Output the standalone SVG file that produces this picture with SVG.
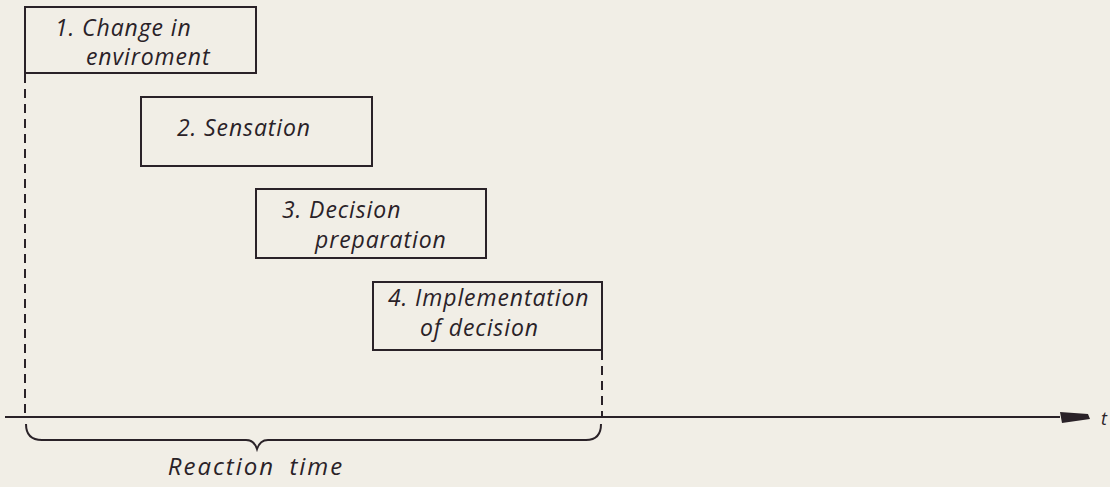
<svg xmlns="http://www.w3.org/2000/svg" width="1110" height="487" viewBox="0 0 1110 487">
<defs>
<style>
.box{fill:none;stroke:#2a2228;stroke-width:2}
.lbl{font-family:"Open Sans","Liberation Sans",sans-serif;font-style:italic;font-size:23px;letter-spacing:0.9px;fill:#2a2228}
.dash{fill:none;stroke:#2a2228;stroke-width:2;stroke-dasharray:9 6}
.ln{fill:none;stroke:#2a2228;stroke-width:2}
</style>
</defs>
<rect width="1110" height="487" fill="#f1eee6"/>
<g id="connectors">
<path class="dash" d="M25,74 V416"/>
<path class="dash" d="M602,351 V416"/>
<path class="ln" d="M5,417 H1060"/>
<path d="M1060,412 L1088,414 L1090,419 L1062,423 Z" fill="#2a2228"/>
<path class="ln" d="M26,424 Q26,440 42,440 H246 Q254,440 257,449 Q260,440 268,440 H586 Q601,440 601,424"/>
</g>
<g id="node1">
<rect class="box" x="25" y="7" width="231" height="66"/>
<text class="lbl" x="55" y="36">1. Change in</text>
<text class="lbl" x="86" y="65">enviroment</text>
</g>
<g id="node2">
<rect class="box" x="141" y="97" width="231" height="69"/>
<text class="lbl" x="177" y="136">2. Sensation</text>
</g>
<g id="node3">
<rect class="box" x="256" y="189" width="230" height="69"/>
<text class="lbl" x="282" y="218">3. Decision</text>
<text class="lbl" x="315" y="248">preparation</text>
</g>
<g id="node4">
<rect class="box" x="373" y="282" width="229" height="68"/>
<text class="lbl" x="388" y="306">4. Implementation</text>
<text class="lbl" x="420" y="336">of decision</text>
</g>
<g id="labels">
<text class="lbl" x="256" y="475" text-anchor="middle" style="font-size:24px;letter-spacing:2px;word-spacing:6px">Reaction time</text>
<text class="lbl" x="1101" y="425" style="font-size:18px">t</text>
</g>
</svg>
